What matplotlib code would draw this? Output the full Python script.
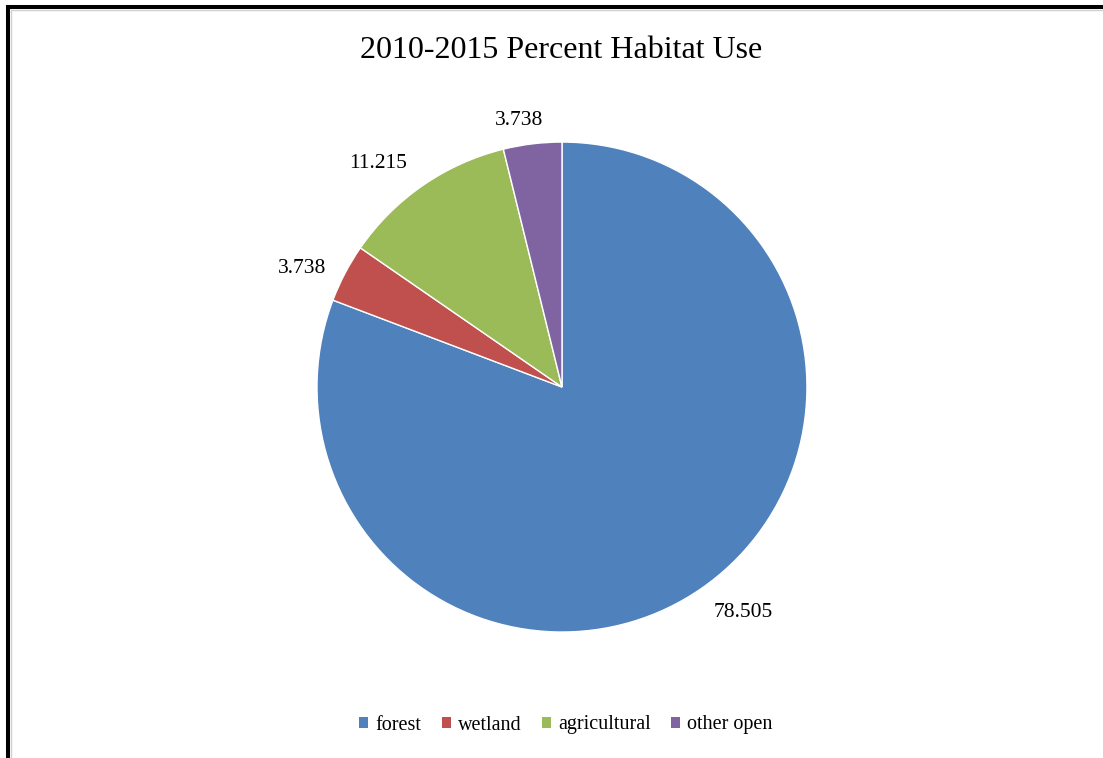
import numpy as np
import matplotlib.pyplot as plt
from matplotlib.lines import Line2D
from matplotlib.patches import Patch

# Data
categories = ["forest", "wetland", "agricultural", "other open"]
values = [78.505, 3.738, 11.215, 3.738]
colors = ["#4F81BD", "#C0504D", "#9BBB59", "#8064A2"]

plt.rcParams.update({
    "font.family": "Liberation Serif",
})

fig = plt.figure(figsize=(11.03, 7.58), dpi=100)
fig.patch.set_facecolor("white")

ax = fig.add_axes([0.2874, 0.1662, 0.4442, 0.6464])
wedges, _ = ax.pie(
    values,
    colors=colors,
    startangle=90,
    counterclock=False,
    radius=1.0,
    wedgeprops=dict(edgecolor="white", linewidth=1.0),
)
ax.set_xlim(-1, 1)
ax.set_ylim(-1, 1)
ax.set_aspect("equal")
ax.axis("off")

# value labels outside each wedge (excel "best fit" style placement)
label_dist = [1.182, 1.167, 1.183, 1.104]
label_shift = [4.1, 3.1, 4.8, 2.2]
for w, val, d, s in zip(wedges, values, label_dist, label_shift):
    ang = np.deg2rad((w.theta1 + w.theta2) / 2 + s)
    ax.text(d * np.cos(ang), d * np.sin(ang), f"{val:.3f}",
            ha="center", va="center", fontsize=15.5, clip_on=False)

fig.text(0.509, 1 - 50 / 758, "2010-2015 Percent Habitat Use",
         ha="center", va="center", fontsize=23)

handles = [Patch(facecolor=c, edgecolor="none") for c in colors]
fig.legend(handles, categories, loc="center", bbox_to_anchor=(0.513, 1 - 725 / 758),
           ncol=4, frameon=False, fontsize=14.5, handlelength=0.45,
           handleheight=0.45, handletextpad=0.35, columnspacing=1.02)

# outer frame (top and left edges visible)
fig.add_artist(Line2D([8 / 1103, 8 / 1103], [0, 1 - 7 / 758],
                      transform=fig.transFigure, color="black", linewidth=2.9))
fig.add_artist(Line2D([8 / 1103, 1], [1 - 7 / 758, 1 - 7 / 758],
                      transform=fig.transFigure, color="black", linewidth=2.9,
                      solid_capstyle="projecting"))
fig.add_artist(Line2D([11 / 1103, 11 / 1103], [0, 1 - 10 / 758],
                      transform=fig.transFigure, color="#d0d0d0", linewidth=1))
fig.add_artist(Line2D([11 / 1103, 1], [1 - 10 / 758, 1 - 10 / 758],
                      transform=fig.transFigure, color="#d0d0d0", linewidth=1))

fig.savefig("out.png", dpi=100, facecolor="white")
